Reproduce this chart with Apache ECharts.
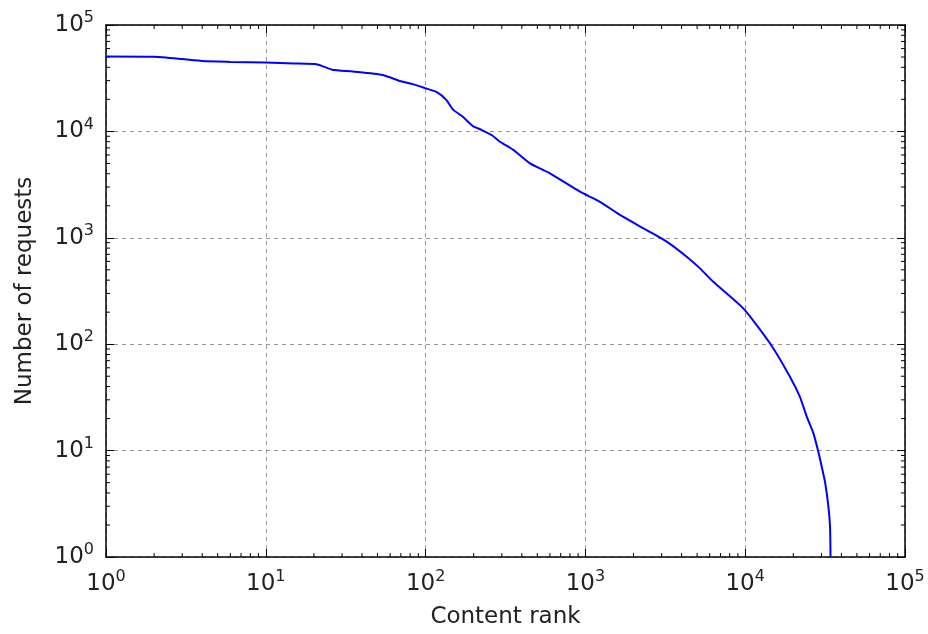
<!DOCTYPE html>
<html>
<head>
<meta charset="utf-8">
<script src="https://cdn.jsdelivr.net/npm/echarts@6/dist/echarts.min.js"></script>
<style>
html,body{margin:0;padding:0;background:#fff;}
#chart{width:928px;height:634px;}
</style>
</head>
<body>
<div id="chart"></div>
<script>
// Data (rank vs number of requests)
var rank = [1, 2, 3, 4, 6, 10, 15, 21, 26, 35, 54, 69, 85, 100, 117, 135, 148, 171, 198, 225, 260, 292, 354, 450, 600, 925, 1234, 1645, 2417, 3226, 4305, 5210, 6310, 9730, 14290, 19050, 22000, 24270, 26700, 28660, 30100, 31640, 33140, 33950, 34200];
var requests = [50500, 50200, 47800, 45800, 45000, 44300, 43500, 42600, 38000, 36500, 33900, 29800, 27500, 25400, 23500, 19700, 16100, 13700, 11200, 10300, 9200, 8000, 6700, 5000, 4040, 2710, 2180, 1640, 1180, 920, 664, 516, 386, 217, 102, 49.5, 32, 20.9, 14.6, 9.8, 7.1, 5.0, 3.0, 1.93, 1];

var xTitle = 'Content rank';
var yTitle = 'Number of requests';
var axisMin = 1, xAxisMax = 100000, yAxisMax = 100000;

// minor tick values (2..9 x 10^k)
var minorVals = [];
for (var k = 0; k < 5; k++) { for (var m = 2; m <= 9; m++) { minorVals.push(m * Math.pow(10, k)); } }

var FONT = 'DejaVu Sans';
var TXT = '#222';

function powLabel(v) {
  var e = Math.round(Math.log10(v));
  return '{b|10}{s|' + e + '}';
}
var richLab = {
  b: {fontSize: 23, fontFamily: FONT, color: TXT, lineHeight: 30},
  s: {fontSize: 16, fontFamily: FONT, color: TXT, lineHeight: 16, verticalAlign: 'top'}
};

var chart = echarts.init(document.getElementById('chart'));
var seriesData = rank.map(function (r, i) { return [r, requests[i]]; });

function minorX(params, api) {
  var v = api.value(0);
  var b = api.coord([v, axisMin]);
  var t = api.coord([v, yAxisMax]);
  var st = {stroke: '#000', lineWidth: 1};
  return {type: 'group', children: [
    {type: 'line', shape: {x1: b[0], y1: b[1], x2: b[0], y2: b[1] - 4}, style: st},
    {type: 'line', shape: {x1: t[0], y1: t[1], x2: t[0], y2: t[1] + 4}, style: st}
  ]};
}
function minorY(params, api) {
  var v = api.value(1);
  var l = api.coord([axisMin, v]);
  var r = api.coord([xAxisMax, v]);
  var st = {stroke: '#000', lineWidth: 1};
  return {type: 'group', children: [
    {type: 'line', shape: {x1: l[0], y1: l[1], x2: l[0] + 4, y2: l[1]}, style: st},
    {type: 'line', shape: {x1: r[0], y1: r[1], x2: r[0] - 4, y2: r[1]}, style: st}
  ]};
}

var option = {
  backgroundColor: '#fff',
  animation: false,
  grid: {left: 106, right: 23, top: 25, bottom: 77, containLabel: false, outerBoundsMode: 'none'},
  xAxis: [{
    type: 'log', logBase: 10, min: axisMin, max: xAxisMax, position: 'bottom',
    name: xTitle, nameLocation: 'middle', nameGap: 49,
    nameTextStyle: {fontSize: 23, fontFamily: FONT, color: TXT},
    axisLine: {show: true, onZero: false, lineStyle: {color: '#000', width: 1.5}},
    axisTick: {show: true, inside: true, length: 8, lineStyle: {color: '#000', width: 1}},
    axisLabel: {margin: 12, formatter: powLabel, rich: richLab},
    splitLine: {show: true, lineStyle: {color: '#999', type: [4, 4], width: 1}}
  }, {
    type: 'log', logBase: 10, min: axisMin, max: xAxisMax, position: 'top',
    axisLine: {show: true, onZero: false, lineStyle: {color: '#000', width: 1.5}},
    axisTick: {show: true, inside: true, length: 8, lineStyle: {color: '#000', width: 1}},
    axisLabel: {show: false}, splitLine: {show: false}
  }],
  yAxis: [{
    type: 'log', logBase: 10, min: axisMin, max: yAxisMax, position: 'left',
    name: yTitle, nameLocation: 'middle', nameGap: 69,
    nameTextStyle: {fontSize: 23, fontFamily: FONT, color: TXT},
    axisLine: {show: true, onZero: false, lineStyle: {color: '#000', width: 1.5}},
    axisTick: {show: true, inside: true, length: 8, lineStyle: {color: '#000', width: 1}},
    axisLabel: {margin: 12, formatter: powLabel, rich: richLab},
    splitLine: {show: true, lineStyle: {color: '#999', type: [4, 4], width: 1}}
  }, {
    type: 'log', logBase: 10, min: axisMin, max: yAxisMax, position: 'right',
    axisLine: {show: true, onZero: false, lineStyle: {color: '#000', width: 1.5}},
    axisTick: {show: true, inside: true, length: 8, lineStyle: {color: '#000', width: 1}},
    axisLabel: {show: false}, splitLine: {show: false}
  }],
  series: [{
    type: 'line', xAxisIndex: 0, yAxisIndex: 0,
    data: seriesData, showSymbol: false, smooth: 0.2,
    lineStyle: {color: '#0000ff', width: 2}, z: 5, silent: true
  }, {
    type: 'custom', xAxisIndex: 0, yAxisIndex: 0, silent: true, clip: false,
    data: minorVals.map(function (v) { return [v, axisMin]; }),
    renderItem: minorX, z: 4
  }, {
    type: 'custom', xAxisIndex: 0, yAxisIndex: 0, silent: true, clip: false,
    data: minorVals.map(function (v) { return [axisMin, v]; }),
    renderItem: minorY, z: 4
  }]
};
chart.setOption(option);
</script>
</body>
</html>
